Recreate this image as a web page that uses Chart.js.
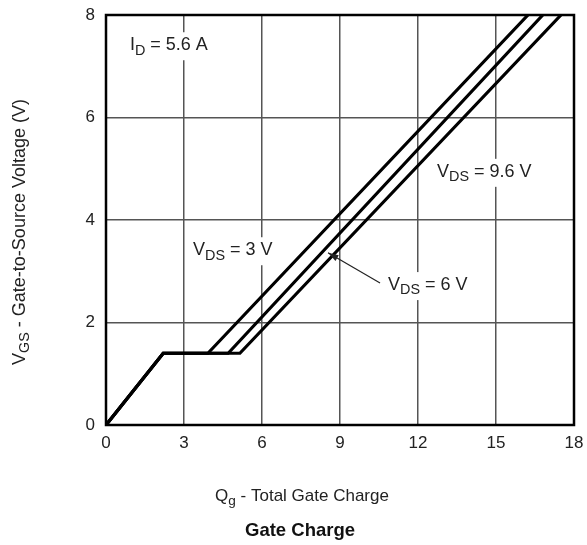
<!DOCTYPE html>
<html>
<head>
<meta charset="utf-8">
<script src="https://cdn.jsdelivr.net/npm/chart.js@4/dist/chart.umd.min.js"></script>
<style>
  html, body { margin: 0; padding: 0; background: #fff; }
  #wrap { width: 587px; height: 545px; }
</style>
</head>
<body>
<div id="wrap"><canvas id="myChart" width="587" height="545"></canvas></div>
<script>
// gate charge curves (Qg in nC, Vgs in V)
const qgVds3 = [0, 2.2, 3.92, 16.23];
const vgsVds3 = [0, 1.4, 1.4, 8];
const qgVds6 = [0, 2.2, 4.7, 16.8];
const vgsVds6 = [0, 1.4, 1.4, 8];
const qgVds96 = [0, 2.2, 5.15, 17.5];
const vgsVds96 = [0, 1.4, 1.4, 8];
const xTicks = [0, 3, 6, 9, 12, 15, 18];
const yTicks = [0, 2, 4, 6, 8];

function toPoints(xs, ys) {
  return xs.map((x, i) => ({ x: x, y: ys[i] }));
}

const FONT = '"Liberation Sans", Arial, sans-serif';

// text with subscript: parts = [[text, isSub], ...]
function drawRich(ctx, parts, x, y, size, align, weight, noDraw) {
  let total = 0;
  parts.forEach(p => {
    ctx.font = (weight || '') + ' ' + (p[1] ? size * 0.8 : size) + 'px ' + FONT;
    total += ctx.measureText(p[0]).width;
  });
  if (noDraw) return total;
  let cx = align === 'center' ? x - total / 2 : x;
  ctx.textAlign = 'left';
  ctx.textBaseline = 'middle';
  parts.forEach(p => {
    ctx.font = (weight || '') + ' ' + (p[1] ? size * 0.8 : size) + 'px ' + FONT;
    ctx.fillText(p[0], cx, p[1] ? y + size * 0.3 : y);
    cx += ctx.measureText(p[0]).width;
  });
  return total;
}

const labels = [
  { x: 0.92, y: 7.41, parts: [['I', false], ['D', true], [' = 5.6 A', false]] },
  { x: 12.73, y: 4.94, parts: [['V', false], ['DS', true], [' = 9.6 V', false]] },
  { x: 3.35, y: 3.41, parts: [['V', false], ['DS', true], [' = 3 V', false]] },
  { x: 10.85, y: 2.73, parts: [['V', false], ['DS', true], [' = 6 V', false]] }
];
const arrowFrom = { x: 10.54, y: 2.77 };
const arrowTo = { x: 8.54, y: 3.36 };

const decorPlugin = {
  id: 'decor',
  afterDatasetsDraw(chart) {
    const ctx = chart.ctx;
    const xs = chart.scales.x, ys = chart.scales.y;
    const a = chart.chartArea;
    ctx.save();
    // frame
    ctx.strokeStyle = '#000';
    ctx.lineWidth = 2.5;
    ctx.strokeRect(a.left, a.top, a.right - a.left, a.bottom - a.top);

    // labels with white box
    labels.forEach(l => {
      const px = xs.getPixelForValue(l.x), py = ys.getPixelForValue(l.y);
      const w = drawRich(ctx, l.parts, px, py, 18, 'left', '', true);
      ctx.fillStyle = '#fff';
      ctx.fillRect(px - 3, py - 13, w + 6, 28);
      ctx.fillStyle = '#222';
      drawRich(ctx, l.parts, px, py, 18, 'left');
    });

    // arrow
    const x1 = xs.getPixelForValue(arrowFrom.x), y1 = ys.getPixelForValue(arrowFrom.y);
    const x2 = xs.getPixelForValue(arrowTo.x), y2 = ys.getPixelForValue(arrowTo.y);
    ctx.strokeStyle = '#222';
    ctx.lineWidth = 1.2;
    ctx.beginPath();
    ctx.moveTo(x1, y1);
    ctx.lineTo(x2, y2);
    ctx.stroke();
    const ang = Math.atan2(y2 - y1, x2 - x1);
    ctx.fillStyle = '#222';
    ctx.beginPath();
    ctx.moveTo(x2, y2);
    ctx.lineTo(x2 - 11 * Math.cos(ang - 0.3), y2 - 11 * Math.sin(ang - 0.3));
    ctx.lineTo(x2 - 11 * Math.cos(ang + 0.3), y2 - 11 * Math.sin(ang + 0.3));
    ctx.closePath();
    ctx.fill();

    // axis titles
    ctx.fillStyle = '#222';
    drawRich(ctx, [['Q', false], ['g', true], [' - Total Gate Charge', false]], 302, 496, 17, 'center');
    ctx.fillStyle = '#111';
    drawRich(ctx, [['Gate Charge', false]], 300, 531, 18.5, 'center', 'bold');
    ctx.fillStyle = '#222';
    ctx.translate(20, 232);
    ctx.rotate(-Math.PI / 2);
    drawRich(ctx, [['V', false], ['GS', true], [' - Gate-to-Source Voltage (V)', false]], 0, 0, 18, 'center');
    ctx.restore();
  }
};

const lineStyle = { borderColor: '#000', borderWidth: 3.2, pointRadius: 0, showLine: true, fill: false, tension: 0 };

new Chart(document.getElementById('myChart').getContext('2d'), {
  type: 'scatter',
  data: {
    datasets: [
      Object.assign({ label: 'VDS = 3 V', data: toPoints(qgVds3, vgsVds3) }, lineStyle),
      Object.assign({ label: 'VDS = 6 V', data: toPoints(qgVds6, vgsVds6) }, lineStyle),
      Object.assign({ label: 'VDS = 9.6 V', data: toPoints(qgVds96, vgsVds96) }, lineStyle)
    ]
  },
  options: {
    responsive: false,
    animation: false,
    layout: { padding: { left: 0, right: 13, top: 15, bottom: 0 } },
    plugins: { legend: { display: false }, tooltip: { enabled: false } },
    scales: {
      x: {
        type: 'linear', min: 0, max: 18,
        afterFit: s => { s.height = 120; s.paddingLeft = 0; s.paddingRight = 0; },
        afterBuildTicks: s => { s.ticks = xTicks.map(v => ({ value: v })); },
        grid: { color: '#555', lineWidth: 1.5, drawTicks: false },
        border: { display: false },
        ticks: { color: '#222', padding: 8, font: { family: FONT, size: 17 } }
      },
      y: {
        type: 'linear', min: 0, max: 8,
        afterFit: s => { s.width = 106; s.paddingTop = 0; s.paddingBottom = 0; },
        afterBuildTicks: s => { s.ticks = yTicks.map(v => ({ value: v })); },
        grid: { color: '#555', lineWidth: 1.5, drawTicks: false },
        border: { display: false },
        ticks: { color: '#222', padding: 11, font: { family: FONT, size: 17 } }
      }
    }
  },
  plugins: [decorPlugin]
});
</script>
</body>
</html>
